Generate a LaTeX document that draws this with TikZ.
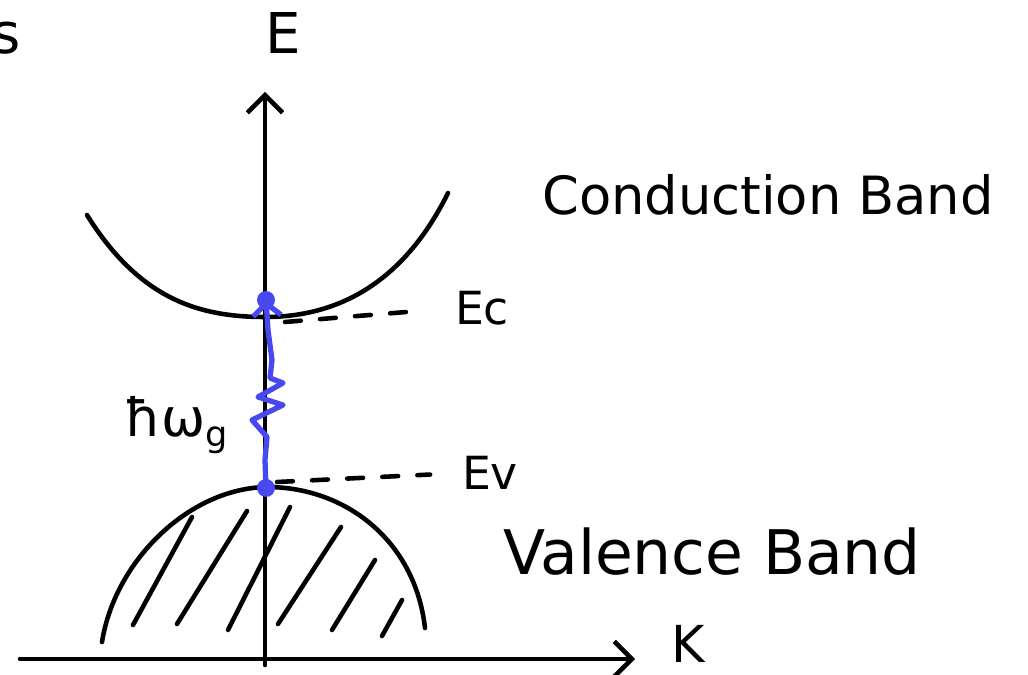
\documentclass[tikz,border=0pt]{standalone}
\usepackage{fontspec}
\setmainfont{DejaVu Sans}
\usetikzlibrary{arrows.meta}

\definecolor{photonblue}{RGB}{72,72,240}

\begin{document}
\begin{tikzpicture}[x=0.02cm, y=-0.02cm,
  every node/.style={inner sep=0pt},
  pen/.style={line width=2.6pt, line cap=round, line join=round},
  axis/.style={pen, -{Straight Barb[length=10pt, width=20pt, line width=2.6pt]}},
  level/.style={pen, dash pattern=on 9pt off 11pt, shorten >=18pt},
  photon/.style={pen, photonblue, line width=3pt, -{Straight Barb[length=7pt, width=16pt]}},
  dot/.style={circle, fill=photonblue, minimum size=0.36cm},
  big/.style={font=\fontsize{32}{38}\selectfont},
  mid/.style={font=\fontsize{26}{30}\selectfont},
  band/.style={font=\fontsize{30}{34}\selectfont}
]
\useasboundingbox (0,0) rectangle (1028,675);

% Axes
\coordinate (kstart) at (20,659);
\coordinate (kend) at (635,659);
\coordinate (ebase) at (265,665);
\coordinate (etop) at (265,92);
\draw[axis] (kstart) -- (kend);
\draw[axis] (ebase) -- (etop);

\node[big] (E) at (283,33) {E};
\node[big, font=\fontsize{29}{34}\selectfont] (K) at (688,644) {K};
\node[big] (cut) at (6,38) {s};

% Conduction band
\draw[pen] (87,215) .. controls (140,300) and (200,317) .. (265,317)
  .. controls (330,317) and (400,290) .. (448,193);
\node[band] (cband) at (768,195) {Conduction Band};

% Valence band, hatched
\draw[pen] (102,642) .. controls (115,560) and (190,488) .. (267,487)
  .. controls (345,487) and (415,540) .. (425,628);
\foreach \xa/\ya/\xb/\yb in {133/625/192/517, 177/624/247/511, 228/630/290/507,
                            278/624/341/527, 332/630/375/560, 382/636/402/600}
  \draw[pen] (\xa,\ya) -- (\xb,\yb);
\node[band, font=\fontsize{35}{40}\selectfont] (vband) at (712,552) {Valence Band};

% Band edges
\node[mid] (Ec) at (482,308) {Ec};
\node[mid] (Ev) at (490,473) {Ev};
\coordinate (ecstart) at (285,322);
\coordinate (evstart) at (277,482);
\draw[level] (ecstart) -- (Ec.west);
\draw[level] (evstart) -- (Ev.west);

% Photon absorption
\node[dot] (cdot) at (266,300) {};
\node[dot] (vdot) at (266,488) {};
\draw[photon] (vdot.center) -- (265,460) -- (267,437) -- (252,420) -- (283,405)
  -- (258,397) -- (283,383) -- (270,378) -- (272,360) -- (268,330) -- (cdot.center);
\node[font=\fontsize{30}{34}\selectfont] (hw) at (176,425)
  {ħω\raisebox{-0.35ex}{\fontsize{20}{24}\selectfont g}};

\end{tikzpicture}
\end{document}
